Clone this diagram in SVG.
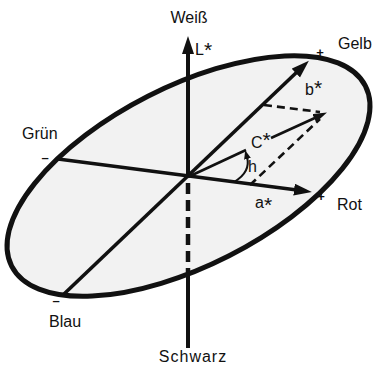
<svg xmlns="http://www.w3.org/2000/svg" width="378" height="370" viewBox="0 0 378 370">
<style>
text{font-family:"Liberation Sans",Arial,sans-serif;fill:#111}
.lbl{font-size:16px}
.sym{font-size:16px}
.st{font-size:21px}
.mk{font-size:13px;font-weight:bold}
.ax{stroke:#111;stroke-width:4;fill:none}
.thin{stroke:#111;stroke-width:2.6;fill:none}
.dash{stroke:#111;stroke-width:2.6;stroke-dasharray:8 5;fill:none}
.vdash{stroke:#111;stroke-width:4.5;stroke-dasharray:11 6;fill:none}
</style>
<defs>
<marker id="ah" markerUnits="userSpaceOnUse" markerWidth="20" markerHeight="14" refX="3" refY="6" orient="auto"><path d="M0,0 L18,6 L0,12 z" fill="#111"/></marker>
<marker id="ahs" markerUnits="userSpaceOnUse" markerWidth="16" markerHeight="12" refX="3" refY="4.5" orient="auto"><path d="M0,0 L14,4.5 L0,9 z" fill="#111"/></marker>
<marker id="aht" markerUnits="userSpaceOnUse" markerWidth="10" markerHeight="10" refX="2" refY="3.5" orient="auto"><path d="M0,0 L9,3.5 L0,7 z" fill="#111"/></marker>
</defs>
<rect width="378" height="370" fill="#fff"/>
<g id="plane">
<ellipse cx="188.5" cy="176" rx="198.5" ry="89.5" transform="rotate(-27 188.5 176)" fill="#f2f2f2" stroke="#111" stroke-width="5"/>
</g>
<g id="connectors">
<line class="ax" x1="188" y1="177" x2="188" y2="51" marker-end="url(#ah)"/>
<line class="vdash" x1="188" y1="183" x2="188" y2="272"/>
<line class="ax" x1="188" y1="272" x2="188" y2="348"/>
<line class="ax" x1="58" y1="159" x2="297" y2="190" style="stroke-width:3.6" marker-end="url(#ah)"/>
<line class="ax" x1="64" y1="294" x2="298" y2="71" style="stroke-width:3.6" marker-end="url(#ah)"/>
<line class="thin" x1="188" y1="177" x2="246" y2="150"/>
<line class="thin" x1="271" y1="138" x2="317" y2="117" marker-end="url(#ahs)"/>
<line class="dash" x1="264" y1="105" x2="320" y2="112"/>
<line class="dash" x1="250" y1="185" x2="320" y2="119"/>
<path class="thin" d="M234 182 Q251 172 247 157" style="stroke-width:2" marker-end="url(#aht)"/>
</g>
<g id="labels">
<text class="lbl" x="189" y="23" text-anchor="middle">Weiß</text>
<text class="lbl" x="193" y="362" text-anchor="middle" letter-spacing="1">Schwarz</text>
<text class="lbl" x="338" y="49">Gelb</text>
<text class="lbl" x="22" y="139">Grün</text>
<text class="lbl" x="337" y="210">Rot</text>
<text class="lbl" x="49" y="327">Blau</text>
<text class="sym" x="195" y="55">L<tspan class="st" dy="2">*</tspan></text>
<text class="sym" x="305" y="95">b<tspan class="st" dy="0">*</tspan></text>
<text class="sym" x="251" y="148">C<tspan class="st" dy="-1">*</tspan></text>
<text class="sym" x="248" y="172">h</text>
<text class="sym" x="255" y="208">a<tspan class="st" dy="4">*</tspan></text>
<text class="mk" x="320" y="57" text-anchor="middle">+</text>
<text class="mk" x="321" y="201" text-anchor="middle">+</text>
<text class="mk" x="45" y="162" text-anchor="middle">–</text>
<text class="mk" x="56" y="305" text-anchor="middle">–</text>
</g>
</svg>
